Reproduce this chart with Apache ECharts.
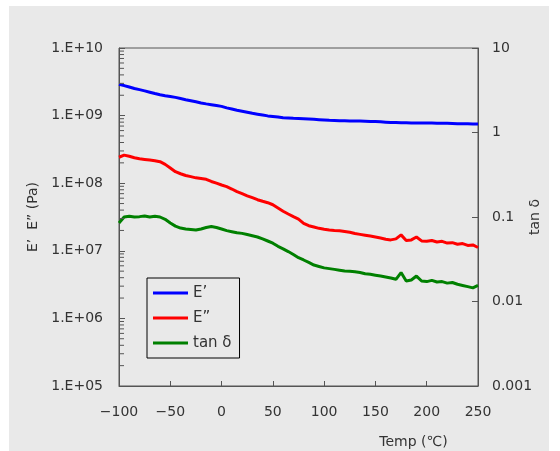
<!DOCTYPE html>
<html>
<head>
<meta charset="utf-8">
<title>DMA</title>
<script src="https://cdn.jsdelivr.net/npm/echarts@6.0.0/dist/echarts.min.js"></script>
<style>
  html, body { margin: 0; padding: 0; background: #fff; }
  #chart { width: 560px; height: 451px; }
</style>
</head>
<body>
<div id="chart"></div>
<script>
// temperature (℃)
var temps = [
  -100, -95, -90, -85, -80, -75, -70, -65, -60, -55,
  -50, -45, -40, -35, -30, -25, -20, -15, -10, -5,
  0, 5, 10, 15, 20, 25, 30, 35, 40, 45,
  50, 55, 60, 65, 70, 75, 80, 85, 90, 95,
  100, 105, 110, 115, 120, 125, 130, 135, 140, 145,
  150, 155, 160, 165, 170, 175, 180, 185, 190, 195,
  200, 205, 210, 215, 220, 225, 230, 235, 240, 245, 250
];
// E' (Pa)
var storageModulus = [
  2.9e9, 2.78e9, 2.65e9, 2.52e9, 2.42e9, 2.32e9, 2.22e9, 2.12e9, 2.03e9, 1.97e9,
  1.92e9, 1.86e9, 1.79e9, 1.72e9, 1.66e9, 1.6e9, 1.54e9, 1.49e9, 1.45e9, 1.41e9,
  1.37e9, 1.3e9, 1.25e9, 1.2e9, 1.16e9, 1.12e9, 1.08e9, 1.05e9, 1.02e9, 9.9e8,
  9.7e8, 9.5e8, 9.3e8, 9.2e8, 9.1e8, 9.05e8, 9.0e8, 8.9e8, 8.8e8, 8.7e8,
  8.6e8, 8.5e8, 8.45e8, 8.4e8, 8.4e8, 8.35e8, 8.3e8, 8.3e8, 8.25e8, 8.2e8,
  8.15e8, 8.1e8, 8.0e8, 7.9e8, 7.9e8, 7.85e8, 7.85e8, 7.8e8, 7.8e8, 7.8e8,
  7.75e8, 7.75e8, 7.7e8, 7.7e8, 7.7e8, 7.65e8, 7.6e8, 7.55e8, 7.55e8, 7.5e8, 7.5e8
];
// E'' (Pa)
var lossModulus = [
  2.42e8, 2.6e8, 2.5e8, 2.38e8, 2.3e8, 2.25e8, 2.2e8, 2.15e8, 2.08e8, 1.9e8,
  1.68e8, 1.48e8, 1.38e8, 1.3e8, 1.25e8, 1.2e8, 1.17e8, 1.14e8, 1.06e8, 1.0e8,
  9.4e7, 8.9e7, 8.2e7, 7.5e7, 7.0e7, 6.5e7, 6.1e7, 5.7e7, 5.4e7, 5.15e7,
  4.8e7, 4.3e7, 3.85e7, 3.5e7, 3.2e7, 2.95e7, 2.55e7, 2.35e7, 2.25e7, 2.15e7,
  2.08e7, 2.03e7, 2.0e7, 1.98e7, 1.93e7, 1.88e7, 1.8e7, 1.75e7, 1.7e7, 1.65e7,
  1.6e7, 1.55e7, 1.48e7, 1.45e7, 1.5e7, 1.72e7, 1.42e7, 1.45e7, 1.6e7, 1.4e7,
  1.38e7, 1.42e7, 1.35e7, 1.38e7, 1.3e7, 1.32e7, 1.25e7, 1.28e7, 1.2e7, 1.22e7, 1.12e7
];
// tan δ
var tanDelta = [
  0.085, 0.1, 0.102, 0.1, 0.101, 0.103, 0.1, 0.102, 0.1, 0.094,
  0.085, 0.078, 0.074, 0.072, 0.071, 0.07, 0.072, 0.075, 0.077, 0.075,
  0.072, 0.069, 0.067, 0.065, 0.064, 0.062, 0.06, 0.058, 0.055, 0.052,
  0.049, 0.045, 0.042, 0.039, 0.036, 0.033, 0.031, 0.029, 0.027, 0.026,
  0.025, 0.0245, 0.024, 0.0235, 0.023, 0.0228, 0.0225, 0.022, 0.0213, 0.021,
  0.0205, 0.02, 0.0195, 0.019, 0.0183, 0.022, 0.0175, 0.018, 0.02, 0.0175,
  0.0172, 0.0178, 0.017, 0.0172, 0.0165, 0.0168, 0.016, 0.0155, 0.015, 0.0145, 0.0155
];

function pairs(ys) {
  return temps.map(function (t, i) { return [t, ys[i]]; });
}

// log minor ticks on the left axis (2..9 x 10^n)
var minorTicks = [];
for (var n = 5; n < 10; n++) {
  for (var m = 2; m <= 9; m++) minorTicks.push([-100, m * Math.pow(10, n)]);
}

var font = 'DejaVu Sans';
var axisColor = '#555';
var textColor = '#333';

var chart = echarts.init(document.getElementById('chart'));
chart.setOption({
  backgroundColor: '#fff',
  animation: false,
  textStyle: { fontFamily: font },
  graphic: [{
    type: 'rect', left: 9, top: 6, z: -100, silent: true,
    shape: { width: 540, height: 445 },
    style: { fill: '#e9e9e9' }
  }],
  grid: {
    left: 119, right: 82, top: 48, bottom: 65,
    outerBoundsMode: 'none',
    show: true, borderColor: axisColor, borderWidth: 1,
    backgroundColor: 'transparent'
  },
  legend: {
    data: ['E’', 'E”', 'tan δ'],
    orient: 'vertical',
    left: 147, top: 278,
    padding: [7, 8, 7, 6],
    itemGap: 9,
    itemWidth: 35, itemHeight: 3,
    icon: 'rect',
    borderColor: '#000', borderWidth: 1,
    textStyle: { fontFamily: font, fontSize: 15, color: textColor, lineHeight: 16 }
  },
  xAxis: {
    type: 'value', min: -100, max: 250, interval: 50,
    name: 'Temp (℃)',
    nameLocation: 'middle', nameGap: 49, nameMoveOverlap: false,
    nameTextStyle: { fontFamily: font, fontSize: 14, color: textColor, padding: [0, 0, 0, 230] },
    axisLine: { onZero: false, lineStyle: { color: axisColor } },
    axisTick: { inside: true, length: 5, lineStyle: { color: axisColor } },
    axisLabel: {
      margin: 19, fontSize: 14, color: textColor, fontFamily: font,
      formatter: function (v) { return String(v).replace('-', '−'); }
    },
    splitLine: { show: false }
  },
  yAxis: [{
    type: 'log', logBase: 10, min: 1e5, max: 1e10, splitNumber: 5,
    name: 'E’  E” (Pa)',
    nameLocation: 'middle', nameGap: 79, nameRotate: 90, nameMoveOverlap: false,
    nameTextStyle: { fontFamily: font, fontSize: 14, color: textColor },
    axisLine: { show: true, onZero: false, lineStyle: { color: axisColor } },
    axisTick: { inside: true, length: 6, lineStyle: { color: axisColor } },
    axisLabel: {
      margin: 16, fontSize: 14, color: textColor, fontFamily: font,
      padding: [6, 0, 0, 0],
      formatter: function (v) {
        var e = Math.round(Math.log10(v));
        return '1.E+' + (e < 10 ? '0' + e : e);
      }
    },
    splitLine: { show: false }
  }, {
    type: 'log', logBase: 10, min: 0.001, max: 10, splitNumber: 4,
    position: 'right',
    name: 'tan δ',
    nameLocation: 'middle', nameGap: 50, nameRotate: 90, nameMoveOverlap: false,
    nameTextStyle: { fontFamily: font, fontSize: 14, color: textColor },
    axisLine: { show: true, onZero: false, lineStyle: { color: axisColor } },
    axisTick: { inside: true, length: 6, lineStyle: { color: axisColor } },
    axisLabel: {
      margin: 14, fontSize: 14, color: textColor, fontFamily: font,
      padding: [6, 0, 0, 0],
      formatter: function (v) { return String(parseFloat(v.toPrecision(3))); }
    },
    splitLine: { show: false }
  }],
  series: [{
    name: 'E’', type: 'line', yAxisIndex: 0, showSymbol: false,
    lineStyle: { color: '#0000ff', width: 3 }, itemStyle: { color: '#0000ff' },
    data: pairs(storageModulus)
  }, {
    name: 'E”', type: 'line', yAxisIndex: 0, showSymbol: false,
    lineStyle: { color: '#ff0000', width: 3 }, itemStyle: { color: '#ff0000' },
    data: pairs(lossModulus)
  }, {
    name: 'tan δ', type: 'line', yAxisIndex: 1, showSymbol: false,
    lineStyle: { color: '#008000', width: 3 }, itemStyle: { color: '#008000' },
    data: pairs(tanDelta)
  }, {
    name: 'minor', type: 'custom', yAxisIndex: 0, silent: true, z: 5, clip: false,
    renderItem: function (params, api) {
      var p = api.coord([api.value(0), api.value(1)]);
      return {
        type: 'line',
        shape: { x1: p[0], y1: p[1], x2: p[0] + 5, y2: p[1] },
        style: { stroke: axisColor, lineWidth: 1 }
      };
    },
    data: minorTicks
  }]
});
</script>
</body>
</html>
